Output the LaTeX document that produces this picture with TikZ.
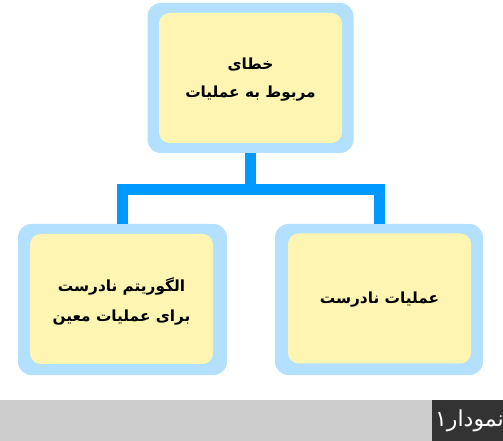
\documentclass[tikz,border=0pt]{standalone}
\usepackage{fontspec}
\TeXXeTstate=1
\newfontfamily\arabicfont[Script=Arabic]{DejaVu Sans}
\definecolor{outerblue}{HTML}{B3E0FF}
\definecolor{inneryellow}{HTML}{FFF5B3}
\definecolor{barblue}{HTML}{0099FF}
\definecolor{bargray}{HTML}{CCCCCC}
\definecolor{labeldark}{HTML}{333333}
\tikzset{
  outerbox/.style={fill=outerblue, draw=none, rounded corners=10pt, inner sep=0pt},
  innerbox/.style={fill=inneryellow, draw=none, rounded corners=8pt, inner sep=0pt, minimum width=183*0.75pt, minimum height=130*0.75pt},
  txt/.style={font=\arabicfont\bfseries\fontsize{11.5}{21}\selectfont, align=center, text=black},
  conn/.style={draw=barblue, line width=11*0.75pt, line join=miter}
}
\begin{document}
\begin{tikzpicture}[x=0.75pt,y=-0.75pt]
\useasboundingbox (0,0) rectangle (503,441);
% boxes
\node[outerbox, minimum width=206*0.75pt, minimum height=150*0.75pt] (topo) at (250.5,78) {};
\node[innerbox] (top) at (250.5,78) {};
\node[outerbox, minimum width=209*0.75pt, minimum height=151*0.75pt] (lefto) at (122.5,299.5) {};
\node[innerbox] (left) at (121.5,299) {};
\node[outerbox, minimum width=208*0.75pt, minimum height=151*0.75pt] (righto) at (379,299.5) {};
\node[innerbox] (right) at (379.5,298.5) {};
% texts
\node[txt] (toptxt) at ([yshift=-1pt]top) {\beginR خطای\endR\\\beginR مربوط به عملیات\endR};
\node[txt, font=\arabicfont\bfseries\fontsize{11.5}{22.5}\selectfont] (lefttxt) at ([yshift=-1.5pt]left) {\beginR الگوریتم نادرست\endR\\\beginR برای عملیات معین\endR};
\node[txt] (righttxt) at ([yshift=-1pt]right) {\beginR عملیات نادرست\endR};
% connectors
\coordinate (j) at (250.5,189.5);
\draw[conn] (topo.south) -- (topo.south |- j);
\draw[conn] (lefto.north) |- (j) -| (righto.north);
% bottom bar
\fill[bargray] (0,400) rectangle (503,441);
\node[fill=labeldark, minimum width=71*0.75pt, minimum height=41*0.75pt, inner sep=0pt] (cap) at (467.5,420.5) {};
\node[font=\arabicfont\fontsize{16.5}{18}\selectfont, text=white, anchor=east, inner sep=0pt] (captxt) at (504,421) {\beginR نمودار۱\endR};
\end{tikzpicture}
\end{document}
